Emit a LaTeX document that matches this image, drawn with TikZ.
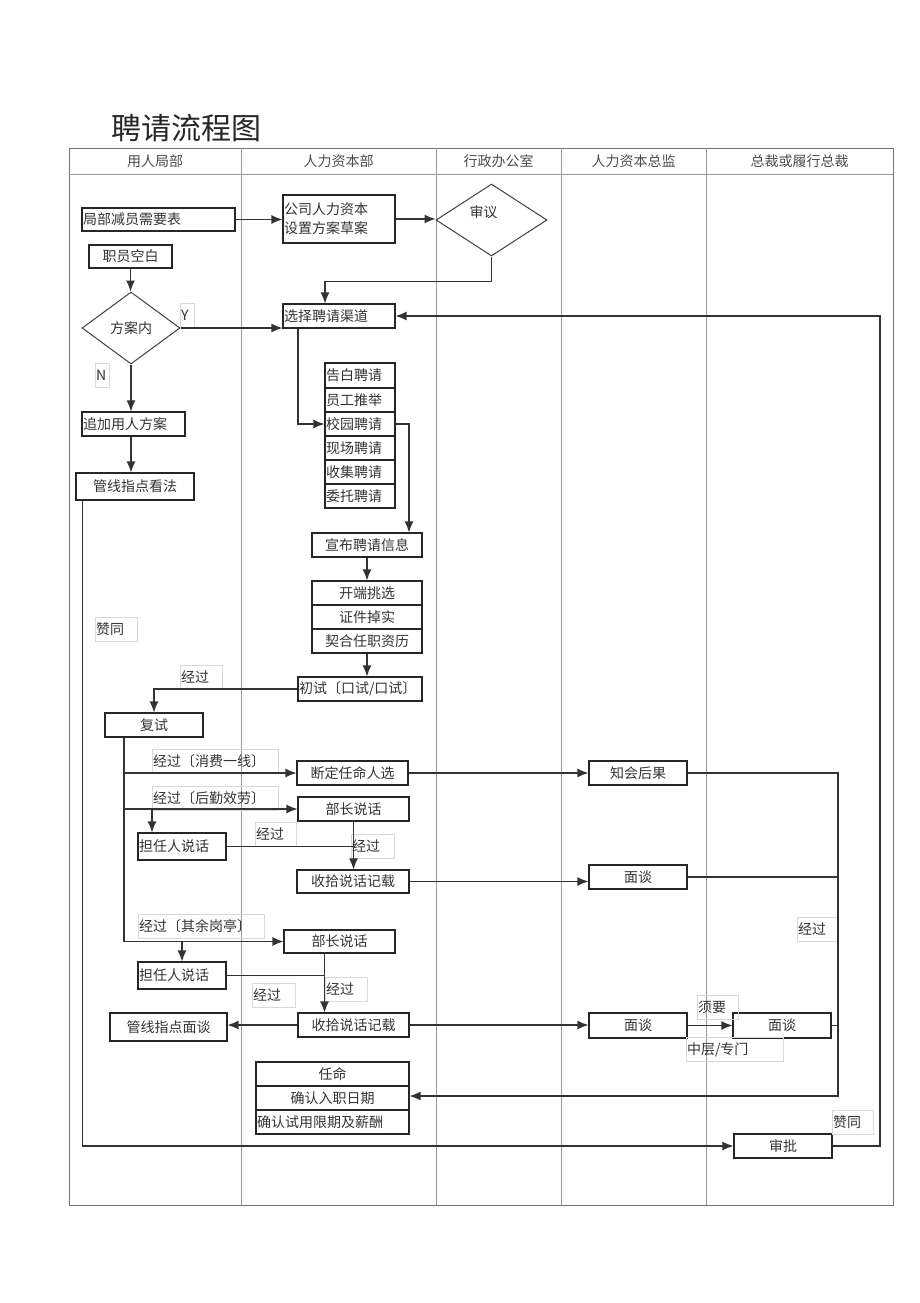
\documentclass[tikz,border=0pt]{standalone}
\usepackage{fontspec}
\setmainfont{Noto Sans CJK SC}
\usetikzlibrary{shapes.geometric}
\usetikzlibrary{arrows.meta}

\begin{document}
\begin{tikzpicture}[x=1pt, y=-1pt,
	every node/.style={font=\fontsize{14}{16}\selectfont, text=black!80},
	box/.style 2 args={draw=black!85, line width=1.1pt, minimum width=#1, minimum height=#2, inner sep=1pt},
	lbox/.style 2 args={draw=black!85, line width=1.1pt, text width=#1, minimum height=#2, inner xsep=1pt, inner ysep=1pt, align=left},
	choice/.style 2 args={draw=black!75, line width=1pt, diamond, minimum width=#1, minimum height=#2, inner sep=0pt},
	tag/.style={draw=black!15, line width=0.5pt, text width=#1, minimum height=24pt, inner xsep=1pt, inner ysep=0pt, align=left},
	flow/.style={draw=black!80, line width=1.2pt, -{Latex[length=11pt,width=9pt]}},
	line/.style={draw=black!80, line width=1.2pt},
	grid/.style={draw=black!40, line width=0.9pt}]
	\useasboundingbox (0,0) rectangle (920,1303);
	\node[font=\fontsize{30}{32}\selectfont, text=black!85] (title) at (186,128) {聘请流程图};
	% lanes
	\draw[grid, draw=black!55] (69,148) rectangle (893,1205);
	\draw[grid] (69,174) -- (893,174);
	\foreach \x in {241,436,561,706}
		\draw[grid] (\x,148) -- (\x,1205);
	\foreach \x/\t [count=\i] in {155/用人局部, 338.5/人力资本部, 498.5/行政办公室, 633.5/人力资本总监, 799.5/总裁或履行总裁}
		\node[text=black!70] (h\i) at (\x,161) {\t};

	% 用人局部
	\node[lbox={151pt}{23pt}] (nNeed) at (158.5,219.5) {局部减员需要表};
	\node[box={83pt}{23pt}] (nBlank) at (130.5,256.5) {职员空白};
	\node[choice={98pt}{72pt}] (dPlan) at (131,328) {方案内};
	\node[lbox={101pt}{24pt}] (nAdd) at (133.5,424) {追加用人方案};
	\node[box={118pt}{27pt}] (nView) at (135,486.5) {管线指点看法};
	\node[box={98pt}{24pt}] (nSecond) at (154,725) {复试};
	\node[lbox={86pt}{27pt}] (nLeaderA) at (182,846.5) {担任人说话};
	\node[lbox={86pt}{27pt}] (nLeaderB) at (182,975.5) {担任人说话};
	\node[box={117pt}{28pt}] (nGuide) at (168.5,1027) {管线指点面谈};

	% 人力资本部
	\node[lbox={110pt}{48pt}] (nDraft) at (339,219) {公司人力资本\\[3pt]设置方案草案};
	\node[lbox={110pt}{24pt}] (nChannel) at (339,316) {选择聘请渠道};
	\node[lbox={68pt}{25pt}] (rAd) at (360,375.5) {告白聘请};
	\node[lbox={68pt}{24pt}] (rRefer) at (360,400) {员工推举};
	\node[lbox={68pt}{24pt}] (rCampus) at (360,424) {校园聘请};
	\node[lbox={68pt}{24pt}] (rSite) at (360,448) {现场聘请};
	\node[lbox={68pt}{24pt}] (rCollect) at (360,472) {收集聘请};
	\node[lbox={68pt}{24pt}] (rAgent) at (360,496) {委托聘请};
	\node[box={110pt}{24pt}] (nPublish) at (367,545) {宣布聘请信息};
	\node[box={110pt}{24pt}] (nStart) at (367,593) {开端挑选};
	\node[box={110pt}{24pt}] (nVerify) at (367,617) {证件掉实};
	\node[box={110pt}{24pt}] (nFit) at (367,641) {契合任职资历};
	\node[lbox={122pt}{24pt}] (nFirst) at (360,689) {初试〔口试/口试〕};
	\node[box={111pt}{24pt}] (nDecide) at (352.5,773) {断定任命人选};
	\node[box={111pt}{24pt}] (nMinisterA) at (353.5,809) {部长说话};
	\node[box={112pt}{23pt}] (nRecordA) at (353,881.5) {收拾说话记载};
	\node[box={111pt}{23pt}] (nMinisterB) at (339.5,941.5) {部长说话};
	\node[box={111pt}{24pt}] (nRecordB) at (353.5,1025) {收拾说话记载};
	\node[box={153pt}{24pt}] (rAppoint) at (332.5,1074) {任命};
	\node[box={153pt}{24pt}] (rEntry) at (332.5,1098) {确认入职日期};
	\node[lbox={151pt}{24pt}] (rTerms) at (332.5,1122) {确认试用限期及薪酬};

	% 行政办公室, 总监, 总裁
	\node[choice={111pt}{72pt}, label={[name=tReview, shift={(-8pt,8pt)}]center:审议}] (dReview) at (491.5,220) {};
	\node[box={98pt}{24pt}] (nNotify) at (638,773) {知会后果};
	\node[box={98pt}{24pt}] (nTalkA) at (638,877) {面谈};
	\node[box={98pt}{25pt}] (nTalkB) at (638,1025.5) {面谈};
	\node[box={98pt}{25pt}] (nTalkC) at (782,1025.5) {面谈};
	\node[box={98pt}{24pt}] (nApprove) at (783,1146) {审批};

	% labels
	\node[tag=12pt] (tY) at (187,315) {Y};
	\node[tag=12pt] (tN) at (102,375) {N};
	\node[tag=40pt] (tAgreeA) at (116,629) {赞同};
	\node[tag=40pt] (tPassA) at (201,677) {经过};
	\node[tag=124pt] (tProd) at (215,761.5) {经过〔消费一线〕};
	\node[tag=124pt] (tLog) at (215,798) {经过〔后勤效劳〕};
	\node[tag=39pt] (tPassB) at (275.5,834) {经过};
	\node[tag=41pt] (tPassC) at (372.5,846) {经过};
	\node[tag=124pt] (tOther) at (201,926) {经过〔其余岗亭〕};
	\node[tag=41pt] (tPassD) at (273.5,995.5) {经过};
	\node[tag=40pt] (tPassE) at (346,989.5) {经过};
	\node[tag=39pt] (tNeed) at (717.5,1007.5) {须要};
	\node[tag=95pt] (tMid) at (734.5,1049.5) {中层/专门};
	\node[tag=39pt] (tPassF) at (817.5,929) {经过};
	\node[tag=39pt] (tAgreeB) at (852.5,1122) {赞同};

	% connectors
	\draw[flow] (nNeed.east) -- (nNeed.east -| nDraft.west);
	\draw[flow] (nDraft.east) -- (nDraft.east -| dReview.west);
	\draw[flow] (dReview.south) -- ++(0,25) -| ([xshift=-14pt]nChannel.north);
	\draw[flow] (nBlank.south) -- (nBlank.south |- dPlan.north);
	\draw[flow] (dPlan.east) -- (dPlan.east -| nChannel.west);
	\draw[flow] (dPlan.south) -- (dPlan.south |- nAdd.north);
	\draw[flow] (dPlan.south |- nAdd.south) -- (dPlan.south |- nView.north);
	\draw[flow] ([xshift=-41pt]nChannel.south) |- (rCampus.west);
	\draw[flow] (rCampus.east) -| ([xshift=42pt]nPublish.north);
	\draw[flow] (nPublish.south) -- (nStart.north);
	\draw[flow] (nFit.south) -- (nFit.south |- nFirst.north);
	\draw[flow] (nFirst.west) -| (nSecond.north);
	\coordinate (trunk) at ([xshift=-30pt]nSecond.south);
	\draw[flow] (trunk) |- (nMinisterB.west);
	\draw[flow] (trunk |- nDecide.west) -- (nDecide.west);
	\draw[flow] (trunk |- nMinisterA.west) -- (nMinisterA.west);
	\draw[flow] (trunk |- nMinisterA.west) -| ([xshift=-30pt]nLeaderA.north);
	\draw[flow] (trunk |- nMinisterB.west) -| (nLeaderB.north);
	\draw[flow] (nMinisterA.south) -- (nMinisterA.south |- nRecordA.north);
	\draw[line] (nLeaderA.east) -- (nLeaderA.east -| nMinisterA.south);
	\draw[flow] ([xshift=-15pt]nMinisterB.south) coordinate (mB) -- (mB |- nRecordB.north);
	\draw[line] (nLeaderB.east) -- (nLeaderB.east -| mB);
	\draw[flow] (nRecordB.west) -- (nRecordB.west -| nGuide.east);
	\draw[flow] (nDecide.east) -- (nNotify.west);
	\draw[flow] (nRecordA.east) -- (nRecordA.east -| nTalkA.west);
	\draw[flow] (nRecordB.east) -- (nRecordB.east -| nTalkB.west);
	\draw[flow] (nTalkB.east) -- (nTalkC.west);
	\coordinate (cBot) at (838,1096);
	\draw[flow] (nNotify.east) -| (cBot) -- (cBot -| rEntry.east);
	\draw[line] (nTalkA.east) -- (nTalkA.east -| cBot);
	\draw[line] (nTalkC.east) -- (nTalkC.east -| cBot);
	\draw[flow] ([xshift=7pt]nView.south west) |- (nApprove.west);
	\coordinate (cTop) at (880,316);
	\draw[flow] (nApprove.east) -| (cTop) -- (nChannel.east);
\end{tikzpicture}
\end{document}
